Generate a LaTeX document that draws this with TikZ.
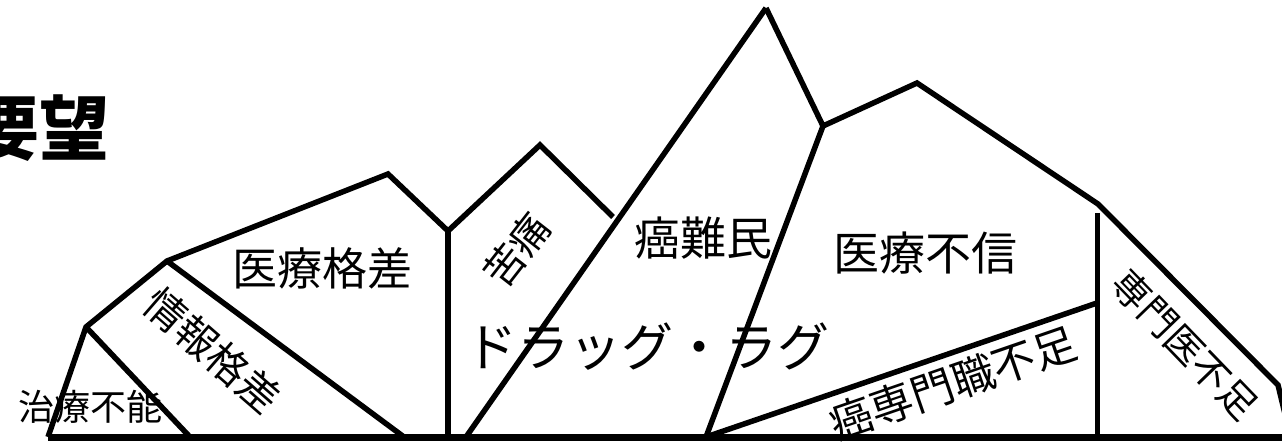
\documentclass[tikz,border=0pt]{standalone}
\usepackage{fontspec}
\newfontfamily\cjk{Noto Sans CJK JP}
\tikzset{
  edge/.style={line width=5.5pt, line join=miter, line cap=butt},
  base/.style={line width=7pt},
  lbl/.style={inner sep=0pt, font=\cjk},
}
\begin{document}
\begin{tikzpicture}[x=1pt,y=-1pt]
\useasboundingbox (0,0) rectangle (1282,443);
% vertices
\coordinate (A) at (48,437);
\coordinate (B) at (86,327);
\coordinate (C) at (167,261);
\coordinate (D) at (388,174);
\coordinate (E) at (448,231);
\coordinate (F) at (540,145);
\coordinate (G) at (613,217);
\coordinate (H) at (766,8);
\coordinate (I) at (823,126);
\coordinate (J) at (917,83);
\coordinate (K) at (1098,204);
\coordinate (L) at (1278,385);
\coordinate (M) at (1292,443);
% base points
\coordinate (b1) at (190,437);
\coordinate (b2) at (404,437);
\coordinate (b3) at (448,437);
\coordinate (b4) at (466,437);
\coordinate (b5) at (706,437);
\coordinate (b6) at (1097,437);
\coordinate (bR) at (1290,437);
\coordinate (v6) at (1097,213);
\coordinate (p6) at (1097,303);
% outline
\draw[edge] (A) -- (B) -- (C) -- (D) -- (E) -- (F) -- (G);
\draw[edge] (H) -- (I) -- (J) -- (K) -- (L) -- (M);
% interior lines
\draw[edge] (B) -- (b1);
\draw[edge] (C) -- (b2);
\draw[edge] (E) -- (b3);
\draw[edge] (H) -- (b4);
\draw[edge] (I) -- (b5);
\draw[edge] (b5) -- (p6);
\draw[edge, line width=5pt] (v6) -- (b6);
% base
\draw[base] (A) -- (bR);
% title
\node[lbl, font=\cjk\bfseries\fontsize{70}{70}\selectfont] (title) at (40,128) {要望};
% labels
\node[lbl, font=\cjk\fontsize{36}{36}\selectfont] (t1) at (90,407) {治療不能};
\node[lbl, font=\cjk\fontsize{41}{41}\selectfont, rotate=-41] (t2) at (213,351) {情報格差};
\node[lbl, font=\cjk\fontsize{45}{45}\selectfont] (t3) at (322,268) {医療格差};
\node[lbl, font=\cjk\fontsize{40}{40}\selectfont, rotate=52] (t4) at (517,250) {苦痛};
\node[lbl, font=\cjk\fontsize{46}{46}\selectfont] (t5) at (703,238) {癌難民};
\node[lbl, font=\cjk\fontsize{52}{52}\selectfont] (t6) at (647,347) {ドラッグ・ラグ};
\node[lbl, font=\cjk\fontsize{46}{46}\selectfont] (t7) at (925,253) {医療不信};
\node[lbl, font=\cjk\fontsize{43}{43}\selectfont, rotate=19] (t8) at (953,383) {癌専門職不足};
\node[lbl, font=\cjk\fontsize{38}{38}\selectfont, rotate=-46] (t9) at (1185,345) {専門医不足};
\end{tikzpicture}
\end{document}
